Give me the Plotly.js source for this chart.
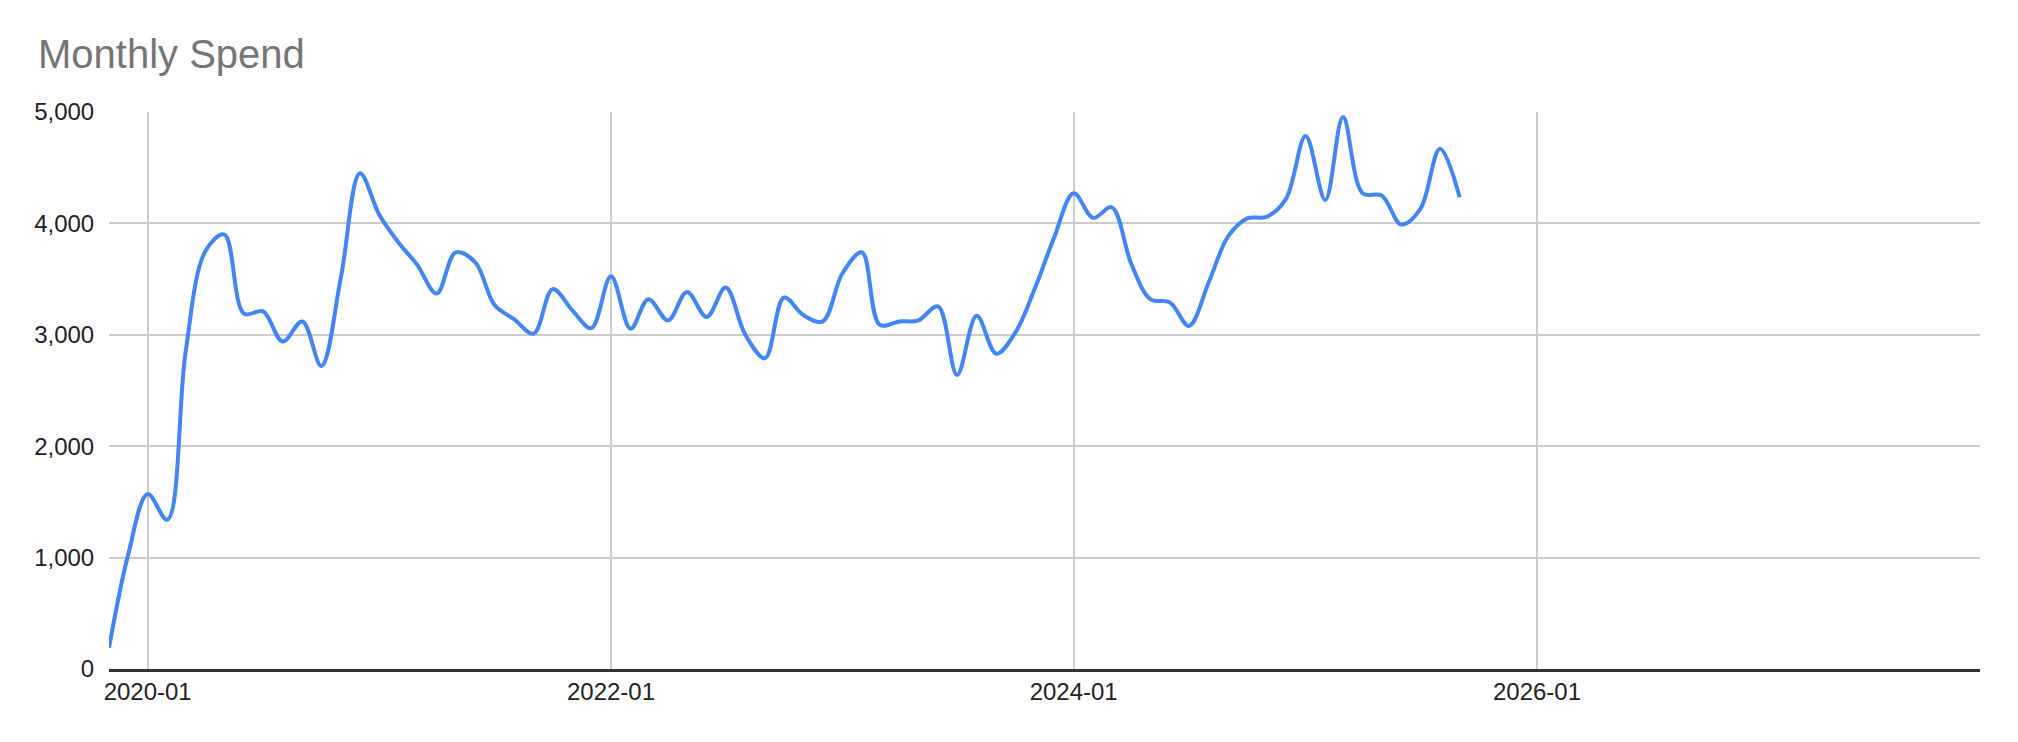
<!DOCTYPE html>
<html>
<head>
<meta charset="utf-8">
<script src="https://cdn.plot.ly/plotly-3.0.1.min.js"></script>
<style>
  html, body { margin: 0; padding: 0; background: #ffffff; }
  #chart { width: 2018px; height: 742px; }
</style>
</head>
<body>
<div id="chart"></div>
<script>
const months = [
  '2019-11-01','2019-12-01',
  '2020-01-01','2020-02-01','2020-03-01','2020-04-01','2020-05-01','2020-06-01',
  '2020-07-01','2020-08-01','2020-09-01','2020-10-01','2020-11-01','2020-12-01',
  '2021-01-01','2021-02-01','2021-03-01','2021-04-01','2021-05-01','2021-06-01',
  '2021-07-01','2021-08-01','2021-09-01','2021-10-01','2021-11-01','2021-12-01',
  '2022-01-01','2022-02-01','2022-03-01','2022-04-01','2022-05-01','2022-06-01',
  '2022-07-01','2022-08-01','2022-09-01','2022-10-01','2022-11-01','2022-12-01',
  '2023-01-01','2023-02-01','2023-03-01','2023-04-01','2023-05-01','2023-06-01',
  '2023-07-01','2023-08-01','2023-09-01','2023-10-01','2023-11-01','2023-12-01',
  '2024-01-01','2024-02-01','2024-03-01','2024-04-01','2024-05-01','2024-06-01',
  '2024-07-01','2024-08-01','2024-09-01','2024-10-01','2024-11-01','2024-12-01',
  '2025-01-01','2025-02-01','2025-03-01','2025-04-01','2025-05-01','2025-06-01',
  '2025-07-01','2025-08-01','2025-09-01'
];

const spend = [
  190, 1020,
  1570, 1340, 2850, 3750, 3900, 3190,
  3210, 2940, 3120, 2720, 3520, 4450,
  4070, 3820, 3630, 3370, 3740, 3650,
  3270, 3140, 3010, 3410, 3220, 3060,
  3525, 3055, 3320, 3130, 3385, 3160,
  3425, 3000, 2790, 3335, 3175, 3120,
  3550, 3740, 3090, 3120, 3130, 3255,
  2640, 3170, 2830, 3020, 3420, 3870,
  4270, 4050, 4145, 3635, 3320, 3290,
  3080, 3470, 3885, 4045, 4060, 4220,
  4785, 4210, 4955, 4270, 4250, 3990,
  4130, 4670, 4235
];

const chartTitle = 'Monthly Spend';
const xRange = ['2019-11-01', '2027-12-01'];
const yRange = [0, 5000];

const trace = {
  x: months,
  y: spend,
  type: 'scatter',
  mode: 'lines',
  line: { color: '#4285F4', width: 4, shape: 'spline', smoothing: 1 },
  hoverinfo: 'x+y'
};

const layout = {
  width: 2018,
  height: 742,
  paper_bgcolor: '#ffffff',
  plot_bgcolor: '#ffffff',
  margin: { l: 109, r: 38, t: 112, b: 73 },
  font: { family: '"Liberation Sans", Arial, sans-serif', color: '#222222', size: 24 },
  title: {
    text: chartTitle,
    x: 38 / 2018,
    xref: 'container',
    xanchor: 'left',
    y: 1 - 54 / 742,
    yref: 'container',
    yanchor: 'middle',
    font: { family: '"Liberation Sans", Arial, sans-serif', size: 40, color: '#757575' }
  },
  showlegend: false,
  xaxis: {
    type: 'date',
    range: xRange,
    tick0: '2020-01-01',
    dtick: 'M24',
    tickformat: '%Y-%m',
    showgrid: true,
    gridcolor: '#cccccc',
    gridwidth: 2,
    showline: true,
    linecolor: '#333333',
    linewidth: 2.5,
    ticks: '',
    zeroline: false,
    tickfont: { size: 24, color: '#222222' }
  },
  yaxis: {
    range: yRange,
    dtick: 1000,
    tickformat: ',d',
    showgrid: true,
    gridcolor: '#cccccc',
    gridwidth: 2,
    zeroline: false,
    showline: false,
    ticks: 'outside',
    ticklen: 9,
    tickcolor: 'rgba(0,0,0,0)',
    tickfont: { size: 24, color: '#222222' }
  }
};

Plotly.newPlot('chart', [trace], layout, { displayModeBar: false, staticPlot: true });
</script>
</body>
</html>
